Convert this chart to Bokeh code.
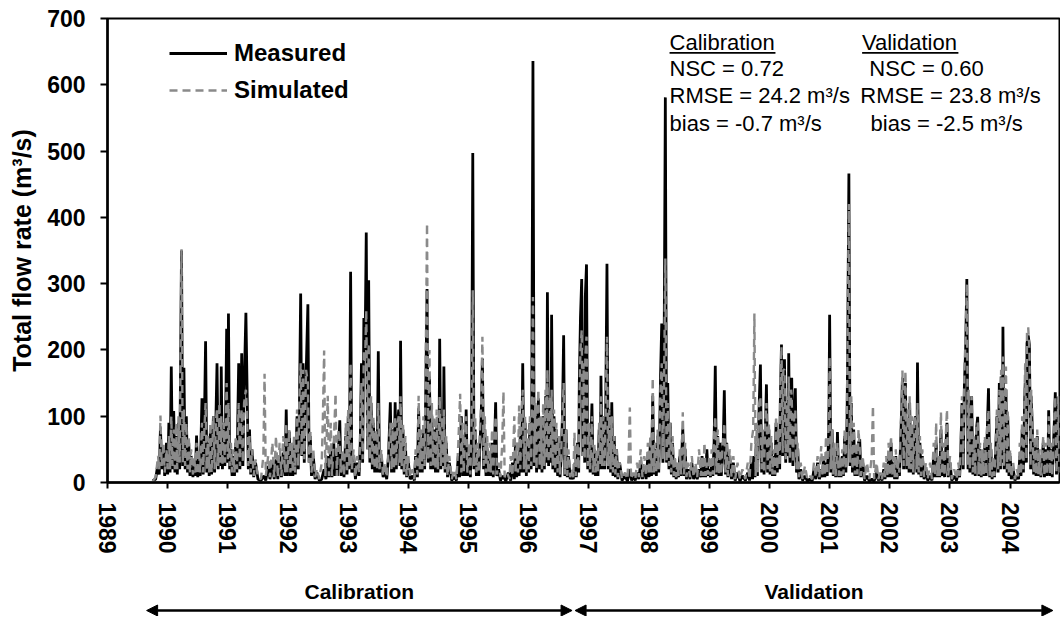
from bokeh.plotting import figure
from bokeh.layouts import column
from bokeh.models import Legend, LegendItem, Label, BoxAnnotation, Arrow, NormalHead, FixedTicker, Range1d
from bokeh.embed import file_html
from bokeh.resources import INLINE

# ---------------- data (decimal year, total flow m3/s) ----------------
measured_cal = [
    (1989.75, 3), (1989.80, 5), (1989.84, 30), (1989.86, 12), (1989.88, 83), (1989.90, 20), (1989.93, 50),
    (1989.95, 10), (1989.98, 60), (1990.00, 12), (1990.02, 90), (1990.04, 15), (1990.06, 175), (1990.08, 20),
    (1990.10, 108), (1990.12, 15), (1990.14, 70), (1990.16, 12), (1990.18, 90), (1990.20, 20), (1990.23, 350),
    (1990.25, 25), (1990.27, 173), (1990.29, 20), (1990.31, 100), (1990.33, 15), (1990.35, 60), (1990.37, 10),
    (1990.39, 40), (1990.42, 8), (1990.44, 30), (1990.46, 10), (1990.48, 71), (1990.50, 8), (1990.52, 40),
    (1990.54, 10), (1990.57, 127), (1990.59, 12), (1990.61, 90), (1990.63, 213), (1990.65, 15), (1990.67, 60),
    (1990.69, 10), (1990.71, 80), (1990.73, 12), (1990.76, 100), (1990.78, 15), (1990.80, 90), (1990.82, 180),
    (1990.84, 20), (1990.86, 110), (1990.88, 25), (1990.89, 175), (1990.91, 20), (1990.93, 90), (1990.95, 25),
    (1990.97, 150), (1990.98, 232), (1991.00, 30), (1991.01, 255), (1991.03, 20), (1991.05, 50), (1991.07, 10),
    (1991.09, 40), (1991.11, 10), (1991.13, 60), (1991.15, 15), (1991.18, 180), (1991.20, 20), (1991.22, 120),
    (1991.23, 195), (1991.25, 25), (1991.27, 140), (1991.30, 256), (1991.32, 139), (1991.34, 20), (1991.36, 80),
    (1991.38, 12), (1991.40, 50), (1991.43, 8), (1991.46, 30), (1991.50, 5), (1991.55, 3), (1991.60, 10),
    (1991.63, 3), (1991.67, 25), (1991.70, 5), (1991.74, 30), (1991.77, 5), (1991.80, 35), (1991.83, 5),
    (1991.86, 40), (1991.89, 8), (1991.92, 45), (1991.95, 10), (1991.97, 110), (1991.99, 10), (1992.02, 77),
    (1992.04, 10), (1992.06, 50), (1992.08, 10), (1992.10, 60), (1992.12, 12), (1992.15, 100), (1992.17, 20),
    (1992.19, 120), (1992.21, 285), (1992.23, 40), (1992.25, 180), (1992.27, 30), (1992.30, 160), (1992.33, 269),
    (1992.35, 30), (1992.37, 70), (1992.39, 10), (1992.42, 40), (1992.45, 5), (1992.48, 15), (1992.52, 3),
    (1992.56, 5), (1992.60, 20), (1992.63, 5), (1992.66, 40), (1992.68, 8), (1992.71, 50), (1992.73, 8),
    (1992.76, 60), (1992.78, 10), (1992.80, 40), (1992.82, 10), (1992.84, 55), (1992.86, 94), (1992.88, 10),
    (1992.91, 40), (1992.93, 8), (1992.96, 70), (1992.98, 12), (1993.00, 100), (1993.02, 20), (1993.04, 318),
    (1993.06, 15), (1993.09, 40), (1993.12, 5), (1993.15, 30), (1993.18, 10), (1993.20, 60), (1993.22, 180),
    (1993.24, 30), (1993.26, 248), (1993.28, 200), (1993.30, 377), (1993.32, 50), (1993.34, 305), (1993.36, 30),
    (1993.38, 120), (1993.40, 20), (1993.42, 90), (1993.44, 15), (1993.46, 70), (1993.48, 15), (1993.50, 198),
    (1993.52, 15), (1993.55, 40), (1993.58, 8), (1993.61, 20), (1993.64, 5), (1993.67, 40), (1993.70, 121),
    (1993.72, 15), (1993.74, 80), (1993.76, 15), (1993.78, 121), (1993.80, 20), (1993.82, 90), (1993.84, 110),
    (1993.86, 25), (1993.87, 214), (1993.89, 20), (1993.91, 80), (1993.93, 12), (1993.95, 60), (1993.97, 8),
    (1994.00, 30), (1994.03, 5), (1994.07, 10), (1994.10, 3), (1994.12, 40), (1994.15, 8), (1994.17, 112),
    (1994.19, 15), (1994.21, 60), (1994.23, 15), (1994.25, 80), (1994.27, 20), (1994.29, 150), (1994.31, 292),
    (1994.33, 30), (1994.35, 160), (1994.37, 20), (1994.39, 100), (1994.41, 20), (1994.43, 80), (1994.45, 15),
    (1994.47, 90), (1994.49, 15), (1994.51, 70), (1994.52, 217), (1994.54, 20), (1994.56, 100), (1994.58, 25),
    (1994.59, 175), (1994.61, 15), (1994.63, 60), (1994.65, 8), (1994.68, 30), (1994.72, 3), (1994.76, 8),
    (1994.80, 3), (1994.83, 40), (1994.85, 8), (1994.88, 100), (1994.90, 10), (1994.92, 60), (1994.94, 10),
    (1994.96, 110), (1994.98, 10), (1995.01, 40), (1995.03, 8), (1995.05, 80), (1995.07, 497), (1995.09, 20),
    (1995.11, 80), (1995.13, 10), (1995.15, 40), (1995.17, 10), (1995.19, 60), (1995.21, 100), (1995.23, 187),
    (1995.25, 20), (1995.27, 80), (1995.29, 10), (1995.31, 50), (1995.33, 10), (1995.35, 40), (1995.37, 10),
    (1995.39, 60), (1995.41, 8), (1995.43, 50), (1995.45, 121), (1995.47, 10), (1995.50, 20), (1995.53, 3),
    (1995.57, 10), (1995.62, 2), (1995.66, 15), (1995.70, 3), (1995.73, 30), (1995.76, 5), (1995.78, 60),
    (1995.80, 8), (1995.82, 40), (1995.84, 10), (1995.86, 70), (1995.88, 15), (1995.90, 180), (1995.92, 15),
    (1995.94, 90), (1995.96, 10), (1995.98, 60), (1996.00, 15), (1996.02, 90), (1996.04, 20), (1996.05, 120),
    (1996.07, 636), (1996.09, 25), (1996.11, 110), (1996.13, 15), (1996.14, 70), (1996.16, 127), (1996.18, 20),
    (1996.20, 80), (1996.22, 15), (1996.24, 100), (1996.26, 20), (1996.28, 130), (1996.30, 30), (1996.31, 287),
    (1996.33, 25), (1996.35, 120), (1996.37, 30), (1996.38, 253), (1996.40, 20), (1996.42, 100), (1996.44, 15),
    (1996.46, 80), (1996.48, 10), (1996.50, 60), (1996.52, 8), (1996.54, 40), (1996.56, 100), (1996.58, 222),
    (1996.60, 10), (1996.62, 80), (1996.64, 8), (1996.66, 40), (1996.69, 5), (1996.72, 10),
]
measured_val = [
    (1996.74, 5), (1996.77, 30), (1996.79, 8), (1996.81, 60), (1996.83, 15), (1996.84, 150), (1996.86, 250),
    (1996.88, 307), (1996.90, 40), (1996.91, 200), (1996.93, 30), (1996.94, 280), (1996.96, 329), (1996.98, 20),
    (1997.00, 80), (1997.02, 15), (1997.05, 119), (1997.07, 12), (1997.09, 50), (1997.11, 10), (1997.13, 40),
    (1997.15, 10), (1997.17, 80), (1997.19, 20), (1997.20, 161), (1997.22, 20), (1997.24, 100), (1997.26, 20),
    (1997.28, 120), (1997.30, 330), (1997.32, 20), (1997.34, 110), (1997.36, 15), (1997.38, 121), (1997.40, 10),
    (1997.42, 70), (1997.44, 8), (1997.46, 50), (1997.48, 5), (1997.51, 30), (1997.55, 3), (1997.60, 10),
    (1997.64, 2), (1997.68, 20), (1997.71, 3), (1997.74, 10), (1997.77, 3), (1997.80, 15), (1997.83, 5),
    (1997.86, 30), (1997.89, 5), (1997.92, 25), (1997.95, 5), (1997.98, 40), (1998.00, 8), (1998.02, 60),
    (1998.04, 10), (1998.06, 131), (1998.08, 12), (1998.10, 50), (1998.12, 10), (1998.14, 70), (1998.16, 15),
    (1998.18, 100), (1998.19, 160), (1998.21, 240), (1998.23, 30), (1998.25, 200), (1998.27, 581), (1998.29, 30),
    (1998.31, 150), (1998.33, 20), (1998.35, 90), (1998.37, 12), (1998.39, 60), (1998.41, 8), (1998.43, 30),
    (1998.45, 5), (1998.47, 20), (1998.49, 8), (1998.51, 40), (1998.53, 10), (1998.55, 60), (1998.56, 81),
    (1998.58, 10), (1998.60, 50), (1998.62, 5), (1998.65, 20), (1998.68, 5), (1998.71, 30), (1998.74, 5),
    (1998.77, 15), (1998.80, 5), (1998.83, 20), (1998.86, 8), (1998.88, 40), (1998.90, 8), (1998.92, 30),
    (1998.94, 8), (1998.96, 50), (1998.98, 10), (1999.00, 20), (1999.02, 8), (1999.04, 30), (1999.06, 10),
    (1999.08, 60), (1999.10, 176), (1999.12, 12), (1999.14, 70), (1999.16, 10), (1999.18, 60), (1999.20, 10),
    (1999.22, 40), (1999.23, 50), (1999.25, 139), (1999.27, 12), (1999.29, 60), (1999.31, 8), (1999.34, 40),
    (1999.37, 5), (1999.40, 30), (1999.43, 3), (1999.47, 15), (1999.51, 2), (1999.55, 10), (1999.60, 3),
    (1999.64, 15), (1999.67, 3), (1999.70, 30), (1999.72, 5), (1999.74, 40), (1999.76, 8), (1999.78, 60),
    (1999.80, 10), (1999.82, 80), (1999.83, 120), (1999.85, 178), (1999.87, 15), (1999.89, 60), (1999.91, 12),
    (1999.93, 70), (1999.95, 148), (1999.97, 15), (1999.99, 80), (2000.01, 12), (2000.03, 60), (2000.05, 10),
    (2000.07, 40), (2000.09, 10), (2000.11, 90), (2000.13, 15), (2000.15, 60), (2000.17, 20), (2000.18, 120),
    (2000.20, 208), (2000.22, 40), (2000.23, 150), (2000.25, 186), (2000.27, 30), (2000.29, 120), (2000.31, 40),
    (2000.32, 195), (2000.34, 30), (2000.36, 140), (2000.37, 158), (2000.39, 25), (2000.41, 100), (2000.43, 142),
    (2000.45, 15), (2000.47, 50), (2000.49, 5), (2000.52, 20), (2000.55, 3), (2000.59, 10), (2000.63, 2),
    (2000.67, 5), (2000.71, 2), (2000.74, 20), (2000.77, 5), (2000.80, 30), (2000.83, 5), (2000.86, 20),
    (2000.88, 8), (2000.90, 40), (2000.92, 8), (2000.94, 30), (2000.96, 10), (2000.98, 60), (2000.99, 120),
    (2001.00, 253), (2001.02, 15), (2001.04, 80), (2001.06, 10), (2001.08, 50), (2001.10, 8), (2001.12, 30),
    (2001.13, 76), (2001.15, 8), (2001.17, 30), (2001.19, 8), (2001.21, 40), (2001.23, 10), (2001.25, 70),
    (2001.27, 15), (2001.29, 100), (2001.30, 200), (2001.32, 466), (2001.34, 25), (2001.36, 120), (2001.38, 15),
    (2001.40, 80), (2001.42, 10), (2001.44, 50), (2001.46, 10), (2001.48, 60), (2001.50, 65), (2001.52, 8),
    (2001.55, 30), (2001.58, 3), (2001.62, 10), (2001.66, 2), (2001.70, 5), (2001.74, 2), (2001.78, 15),
    (2001.81, 3), (2001.84, 10), (2001.87, 3), (2001.90, 20), (2001.92, 5), (2001.94, 25), (2001.96, 8),
    (2001.98, 40), (2002.00, 8), (2002.02, 60), (2002.04, 8), (2002.06, 30), (2002.08, 5), (2002.10, 40),
    (2002.12, 5), (2002.14, 20), (2002.16, 10), (2002.18, 60), (2002.20, 120), (2002.21, 158), (2002.23, 20),
    (2002.25, 100), (2002.26, 150), (2002.28, 20), (2002.30, 90), (2002.32, 15), (2002.33, 120), (2002.35, 15),
    (2002.37, 80), (2002.39, 12), (2002.41, 90), (2002.43, 100), (2002.45, 15), (2002.46, 181), (2002.48, 12),
    (2002.50, 60), (2002.52, 8), (2002.54, 40), (2002.57, 5), (2002.60, 20), (2002.63, 3), (2002.67, 10),
    (2002.70, 3), (2002.73, 40), (2002.75, 8), (2002.77, 60), (2002.79, 8), (2002.81, 30), (2002.83, 8),
    (2002.85, 80), (2002.87, 10), (2002.89, 40), (2002.91, 8), (2002.93, 50), (2002.95, 90), (2002.97, 8),
    (2003.00, 30), (2003.03, 3), (2003.07, 10), (2003.11, 3), (2003.14, 20), (2003.16, 8), (2003.18, 50),
    (2003.20, 120), (2003.22, 20), (2003.24, 150), (2003.26, 200), (2003.28, 307), (2003.30, 20), (2003.31, 130),
    (2003.33, 15), (2003.35, 100), (2003.36, 130), (2003.38, 12), (2003.40, 60), (2003.42, 10), (2003.44, 80),
    (2003.46, 99), (2003.48, 10), (2003.50, 50), (2003.52, 8), (2003.54, 40), (2003.56, 10), (2003.58, 60),
    (2003.60, 10), (2003.62, 80), (2003.64, 142), (2003.66, 8), (2003.68, 50), (2003.70, 5), (2003.72, 30),
    (2003.74, 8), (2003.76, 50), (2003.78, 100), (2003.80, 15), (2003.82, 150), (2003.84, 20), (2003.85, 160),
    (2003.87, 30), (2003.88, 235), (2003.90, 20), (2003.92, 120), (2003.93, 140), (2003.95, 15), (2003.96, 100),
    (2003.98, 10), (2004.00, 40), (2004.02, 5), (2004.05, 20), (2004.08, 3), (2004.11, 10), (2004.14, 5),
    (2004.16, 40), (2004.18, 10), (2004.20, 80), (2004.22, 15), (2004.24, 120), (2004.25, 150), (2004.27, 30),
    (2004.28, 210), (2004.30, 222), (2004.32, 207), (2004.34, 20), (2004.35, 130), (2004.37, 77), (2004.39, 12),
    (2004.41, 60), (2004.43, 10), (2004.45, 70), (2004.47, 10), (2004.49, 40), (2004.51, 8), (2004.53, 30),
    (2004.55, 60), (2004.57, 8), (2004.59, 50), (2004.61, 10), (2004.63, 40), (2004.64, 109), (2004.66, 10),
    (2004.68, 50), (2004.70, 8), (2004.72, 60), (2004.73, 80), (2004.75, 136), (2004.77, 12), (2004.79, 60),
    (2004.80, 129), (2004.82, 15),
]
simulated_cal = [
    (1989.75, 2), (1989.80, 8), (1989.84, 40), (1989.86, 20), (1989.88, 101), (1989.90, 25), (1989.93, 60),
    (1989.95, 15), (1989.98, 50), (1990.00, 20), (1990.02, 70), (1990.04, 20), (1990.06, 100), (1990.08, 25),
    (1990.10, 80), (1990.12, 20), (1990.14, 90), (1990.16, 20), (1990.18, 100), (1990.20, 30), (1990.23, 352),
    (1990.25, 30), (1990.27, 110), (1990.29, 25), (1990.31, 90), (1990.33, 20), (1990.35, 70), (1990.37, 15),
    (1990.39, 50), (1990.42, 12), (1990.44, 40), (1990.46, 15), (1990.48, 60), (1990.50, 12), (1990.52, 50),
    (1990.54, 15), (1990.57, 90), (1990.59, 15), (1990.61, 80), (1990.63, 120), (1990.65, 20), (1990.67, 70),
    (1990.69, 15), (1990.71, 90), (1990.73, 15), (1990.76, 100), (1990.78, 20), (1990.80, 90), (1990.82, 110),
    (1990.84, 25), (1990.86, 120), (1990.88, 30), (1990.89, 100), (1990.91, 25), (1990.93, 90), (1990.95, 30),
    (1990.97, 110), (1990.98, 150), (1991.00, 35), (1991.01, 120), (1991.03, 25), (1991.05, 60), (1991.07, 15),
    (1991.09, 50), (1991.11, 15), (1991.13, 70), (1991.15, 20), (1991.18, 120), (1991.20, 25), (1991.22, 100),
    (1991.23, 110), (1991.25, 30), (1991.27, 120), (1991.30, 140), (1991.32, 100), (1991.34, 25), (1991.36, 70),
    (1991.38, 15), (1991.40, 50), (1991.43, 10), (1991.46, 35), (1991.50, 8), (1991.55, 5), (1991.59, 40),
    (1991.61, 164), (1991.63, 10), (1991.67, 40), (1991.70, 8), (1991.74, 60), (1991.77, 8), (1991.80, 70),
    (1991.83, 8), (1991.86, 60), (1991.89, 10), (1991.92, 70), (1991.95, 15), (1991.97, 90), (1991.99, 15),
    (1992.02, 80), (1992.04, 15), (1992.06, 60), (1992.08, 15), (1992.10, 70), (1992.12, 15), (1992.15, 110),
    (1992.17, 25), (1992.19, 130), (1992.21, 180), (1992.23, 40), (1992.25, 170), (1992.27, 35), (1992.30, 170),
    (1992.33, 150), (1992.35, 30), (1992.37, 80), (1992.39, 15), (1992.42, 50), (1992.45, 8), (1992.48, 20),
    (1992.52, 5), (1992.56, 30), (1992.58, 100), (1992.60, 199), (1992.62, 10), (1992.64, 60), (1992.66, 131),
    (1992.68, 10), (1992.71, 90), (1992.73, 10), (1992.76, 60), (1992.79, 134), (1992.81, 10), (1992.84, 80),
    (1992.86, 60), (1992.88, 15), (1992.91, 50), (1992.93, 10), (1992.96, 90), (1992.98, 15), (1993.00, 110),
    (1993.02, 25), (1993.04, 180), (1993.06, 20), (1993.09, 50), (1993.12, 8), (1993.15, 40), (1993.18, 15),
    (1993.20, 70), (1993.22, 150), (1993.24, 35), (1993.26, 200), (1993.28, 180), (1993.30, 260), (1993.32, 50),
    (1993.34, 210), (1993.36, 35), (1993.38, 130), (1993.40, 25), (1993.42, 100), (1993.44, 20), (1993.46, 80),
    (1993.48, 20), (1993.50, 120), (1993.52, 20), (1993.55, 50), (1993.58, 10), (1993.61, 30), (1993.64, 8),
    (1993.67, 50), (1993.70, 90), (1993.72, 20), (1993.74, 90), (1993.76, 20), (1993.78, 100), (1993.80, 25),
    (1993.82, 90), (1993.84, 100), (1993.86, 30), (1993.87, 130), (1993.89, 25), (1993.91, 90), (1993.93, 15),
    (1993.95, 70), (1993.97, 10), (1994.00, 40), (1994.03, 8), (1994.07, 20), (1994.10, 5), (1994.12, 50),
    (1994.15, 12), (1994.17, 131), (1994.19, 20), (1994.21, 80), (1994.23, 20), (1994.25, 100), (1994.27, 25),
    (1994.29, 200), (1994.31, 391), (1994.33, 35), (1994.35, 200), (1994.37, 25), (1994.39, 120), (1994.41, 25),
    (1994.43, 100), (1994.45, 20), (1994.47, 110), (1994.49, 20), (1994.51, 90), (1994.52, 130), (1994.54, 25),
    (1994.56, 100), (1994.58, 30), (1994.59, 110), (1994.61, 20), (1994.63, 70), (1994.65, 10), (1994.68, 40),
    (1994.72, 5), (1994.76, 20), (1994.80, 5), (1994.83, 60), (1994.86, 134), (1994.88, 15), (1994.90, 90),
    (1994.92, 15), (1994.94, 70), (1994.96, 100), (1994.98, 15), (1995.01, 60), (1995.03, 12), (1995.05, 90),
    (1995.07, 290), (1995.09, 25), (1995.11, 100), (1995.13, 15), (1995.15, 60), (1995.17, 15), (1995.19, 80),
    (1995.21, 120), (1995.23, 220), (1995.25, 25), (1995.27, 100), (1995.29, 15), (1995.31, 70), (1995.33, 15),
    (1995.35, 60), (1995.37, 15), (1995.39, 80), (1995.41, 12), (1995.43, 60), (1995.45, 100), (1995.47, 12),
    (1995.50, 30), (1995.53, 8), (1995.56, 60), (1995.58, 137), (1995.60, 8), (1995.64, 15), (1995.68, 5),
    (1995.70, 40), (1995.73, 10), (1995.76, 100), (1995.78, 15), (1995.80, 60), (1995.82, 15), (1995.84, 116),
    (1995.86, 20), (1995.88, 100), (1995.90, 140), (1995.92, 20), (1995.94, 100), (1995.96, 15), (1995.98, 80),
    (1996.00, 20), (1996.02, 100), (1996.04, 25), (1996.05, 130), (1996.07, 280), (1996.09, 30), (1996.11, 120),
    (1996.13, 20), (1996.14, 90), (1996.16, 140), (1996.18, 25), (1996.20, 100), (1996.22, 20), (1996.24, 120),
    (1996.26, 25), (1996.28, 140), (1996.30, 35), (1996.31, 170), (1996.33, 30), (1996.35, 130), (1996.37, 35),
    (1996.38, 140), (1996.40, 25), (1996.42, 110), (1996.44, 20), (1996.46, 90), (1996.48, 15), (1996.50, 70),
    (1996.52, 12), (1996.54, 50), (1996.56, 100), (1996.58, 150), (1996.60, 12), (1996.62, 80), (1996.64, 10),
    (1996.66, 50), (1996.69, 8), (1996.72, 20),
]
simulated_val = [
    (1996.74, 8), (1996.76, 75), (1996.78, 10), (1996.81, 60), (1996.83, 20), (1996.84, 120), (1996.86, 200),
    (1996.88, 230), (1996.90, 40), (1996.91, 180), (1996.93, 35), (1996.94, 190), (1996.96, 220), (1996.98, 25),
    (1997.00, 90), (1997.02, 20), (1997.05, 100), (1997.07, 15), (1997.09, 60), (1997.11, 15), (1997.13, 50),
    (1997.15, 15), (1997.17, 90), (1997.19, 25), (1997.20, 130), (1997.22, 25), (1997.24, 100), (1997.26, 25),
    (1997.28, 120), (1997.30, 220), (1997.32, 25), (1997.34, 110), (1997.36, 20), (1997.38, 100), (1997.40, 15),
    (1997.42, 70), (1997.44, 12), (1997.46, 50), (1997.48, 8), (1997.51, 30), (1997.55, 5), (1997.60, 15),
    (1997.64, 5), (1997.66, 40), (1997.68, 113), (1997.70, 5), (1997.74, 15), (1997.77, 5), (1997.80, 30),
    (1997.83, 8), (1997.86, 50), (1997.89, 8), (1997.92, 40), (1997.95, 10), (1997.98, 60), (1998.00, 12),
    (1998.02, 70), (1998.04, 15), (1998.06, 158), (1998.08, 15), (1998.10, 60), (1998.12, 15), (1998.14, 80),
    (1998.16, 20), (1998.18, 100), (1998.19, 140), (1998.21, 180), (1998.23, 35), (1998.25, 160), (1998.27, 338),
    (1998.29, 30), (1998.31, 120), (1998.33, 25), (1998.35, 90), (1998.37, 15), (1998.39, 70), (1998.41, 10),
    (1998.43, 40), (1998.45, 8), (1998.47, 30), (1998.49, 10), (1998.51, 50), (1998.53, 12), (1998.55, 70),
    (1998.56, 106), (1998.58, 12), (1998.60, 60), (1998.62, 8), (1998.65, 30), (1998.68, 8), (1998.71, 40),
    (1998.74, 8), (1998.77, 30), (1998.80, 8), (1998.83, 50), (1998.86, 10), (1998.88, 40), (1998.90, 10),
    (1998.92, 60), (1998.94, 10), (1998.96, 30), (1998.98, 12), (1999.00, 40), (1999.02, 10), (1999.04, 50),
    (1999.06, 12), (1999.08, 70), (1999.10, 100), (1999.12, 15), (1999.14, 80), (1999.16, 12), (1999.18, 50),
    (1999.20, 12), (1999.22, 60), (1999.23, 60), (1999.25, 90), (1999.27, 15), (1999.29, 60), (1999.31, 10),
    (1999.34, 50), (1999.37, 8), (1999.40, 40), (1999.43, 5), (1999.47, 30), (1999.51, 5), (1999.55, 20),
    (1999.60, 5), (1999.64, 30), (1999.67, 5), (1999.70, 60), (1999.73, 80), (1999.75, 255), (1999.77, 10),
    (1999.79, 90), (1999.81, 15), (1999.82, 100), (1999.83, 120), (1999.85, 130), (1999.87, 20), (1999.89, 80),
    (1999.91, 15), (1999.93, 90), (1999.95, 120), (1999.97, 20), (1999.99, 90), (2000.01, 15), (2000.03, 70),
    (2000.05, 12), (2000.07, 50), (2000.09, 12), (2000.11, 100), (2000.13, 20), (2000.15, 80), (2000.17, 25),
    (2000.18, 140), (2000.20, 205), (2000.22, 45), (2000.23, 170), (2000.25, 170), (2000.27, 35), (2000.29, 130),
    (2000.31, 45), (2000.32, 160), (2000.34, 35), (2000.36, 140), (2000.37, 130), (2000.39, 30), (2000.41, 100),
    (2000.43, 110), (2000.45, 20), (2000.47, 60), (2000.49, 8), (2000.52, 30), (2000.55, 5), (2000.59, 25),
    (2000.63, 5), (2000.67, 10), (2000.71, 5), (2000.74, 30), (2000.77, 8), (2000.80, 40), (2000.83, 8),
    (2000.86, 55), (2000.88, 10), (2000.90, 40), (2000.92, 10), (2000.94, 70), (2000.96, 12), (2000.98, 80),
    (2000.99, 100), (2001.00, 190), (2001.02, 20), (2001.04, 80), (2001.06, 12), (2001.08, 60), (2001.10, 10),
    (2001.12, 40), (2001.13, 60), (2001.15, 10), (2001.17, 40), (2001.19, 10), (2001.21, 50), (2001.23, 12),
    (2001.25, 80), (2001.27, 20), (2001.29, 120), (2001.30, 250), (2001.32, 420), (2001.34, 30), (2001.36, 130),
    (2001.38, 20), (2001.40, 90), (2001.42, 12), (2001.44, 60), (2001.46, 12), (2001.48, 80), (2001.50, 50),
    (2001.52, 10), (2001.55, 40), (2001.58, 5), (2001.62, 30), (2001.66, 5), (2001.70, 40), (2001.72, 116),
    (2001.74, 5), (2001.78, 30), (2001.81, 5), (2001.84, 15), (2001.87, 5), (2001.90, 30), (2001.92, 8),
    (2001.94, 40), (2001.96, 10), (2001.98, 60), (2002.00, 10), (2002.02, 70), (2002.04, 10), (2002.06, 40),
    (2002.08, 8), (2002.10, 50), (2002.12, 8), (2002.14, 30), (2002.16, 15), (2002.18, 80), (2002.20, 130),
    (2002.21, 169), (2002.23, 25), (2002.25, 130), (2002.26, 168), (2002.28, 25), (2002.30, 110), (2002.32, 20),
    (2002.33, 130), (2002.35, 20), (2002.37, 100), (2002.39, 15), (2002.41, 100), (2002.43, 90), (2002.45, 20),
    (2002.46, 120), (2002.48, 15), (2002.50, 70), (2002.52, 10), (2002.54, 50), (2002.57, 8), (2002.60, 30),
    (2002.63, 5), (2002.67, 30), (2002.70, 5), (2002.73, 60), (2002.75, 10), (2002.77, 90), (2002.79, 10),
    (2002.81, 40), (2002.83, 10), (2002.85, 106), (2002.87, 12), (2002.89, 60), (2002.91, 10), (2002.93, 70),
    (2002.95, 110), (2002.97, 10), (2003.00, 40), (2003.03, 5), (2003.07, 20), (2003.11, 5), (2003.14, 30),
    (2003.16, 10), (2003.18, 60), (2003.20, 130), (2003.22, 25), (2003.24, 170), (2003.26, 220), (2003.28, 300),
    (2003.30, 25), (2003.31, 140), (2003.33, 20), (2003.35, 110), (2003.36, 130), (2003.38, 15), (2003.40, 70),
    (2003.42, 12), (2003.44, 90), (2003.46, 90), (2003.48, 12), (2003.50, 60), (2003.52, 10), (2003.54, 50),
    (2003.56, 12), (2003.58, 70), (2003.60, 12), (2003.62, 90), (2003.64, 110), (2003.66, 10), (2003.68, 60),
    (2003.70, 8), (2003.72, 40), (2003.74, 10), (2003.76, 60), (2003.78, 110), (2003.80, 20), (2003.82, 140),
    (2003.84, 25), (2003.85, 170), (2003.87, 35), (2003.88, 190), (2003.90, 25), (2003.92, 150), (2003.93, 175),
    (2003.95, 20), (2003.96, 110), (2003.98, 12), (2004.00, 50), (2004.02, 8), (2004.05, 30), (2004.08, 5),
    (2004.11, 20), (2004.14, 8), (2004.16, 60), (2004.18, 12), (2004.20, 100), (2004.22, 20), (2004.24, 140),
    (2004.25, 180), (2004.27, 35), (2004.28, 225), (2004.30, 234), (2004.32, 200), (2004.34, 25), (2004.35, 140),
    (2004.37, 90), (2004.39, 15), (2004.41, 70), (2004.43, 12), (2004.45, 80), (2004.47, 12), (2004.49, 50),
    (2004.51, 10), (2004.53, 40), (2004.55, 70), (2004.57, 10), (2004.59, 60), (2004.61, 12), (2004.63, 50),
    (2004.64, 100), (2004.66, 12), (2004.68, 60), (2004.70, 10), (2004.72, 70), (2004.73, 90), (2004.75, 130),
    (2004.77, 15), (2004.79, 70), (2004.80, 130), (2004.82, 15),
]
year_ticks = list(range(1989, 2005))
year_labels = [str(y) for y in year_ticks]
flow_ticks = [0, 100, 200, 300, 400, 500, 600, 700]

stats_calibration = ["NSC = 0.72", "RMSE = 24.2 m\u00b3/s", "bias = -0.7 m\u00b3/s"]
stats_validation = ["NSC = 0.60", "RMSE = 23.8 m\u00b3/s", "bias = -2.5 m\u00b3/s"]
period_names = ["Calibration", "Validation"]
period_bounds = [(1989.65, 1996.72), (1996.77, 2004.71)]

FONT = "Liberation Sans"

m_all = measured_cal + measured_val
s_all = simulated_cal + simulated_val
mt = [a for a, b in m_all]
mq = [b for a, b in m_all]
st = [a for a, b in s_all]
sq = [b for a, b in s_all]

W = 1060
p = figure(width=W, height=560, output_backend="svg", toolbar_location=None,
           x_range=Range1d(1989.0, 2004.82), y_range=Range1d(0, 700),
           min_border_left=107, min_border_right=1, min_border_top=18, min_border_bottom=78)
p.xgrid.visible = False
p.ygrid.visible = False
p.outline_line_color = "black"
p.outline_line_width = 2
p.outline_line_alpha = 1

rm = p.line(mt, mq, line_color="black", line_width=2.8)
rs = p.line(st, sq, line_color="#8a8a8a", line_width=2.4, line_dash="8 5")

xa = p.xaxis[0]
ya = p.yaxis[0]
xa.ticker = FixedTicker(ticks=year_ticks)
xa.major_label_overrides = {t: l for t, l in zip(year_ticks, year_labels)}
ya.ticker = FixedTicker(ticks=flow_ticks)
for ax in (xa, ya):
    ax.axis_line_width = 2.5
    ax.axis_line_color = "black"
    ax.major_tick_line_width = 2
    ax.major_tick_line_color = "black"
    ax.major_tick_in = 0
    ax.minor_tick_line_color = None
    ax.major_label_text_font = FONT
    ax.major_label_text_font_style = "bold"
    ax.major_label_text_font_size = "23px"
    ax.major_label_text_color = "black"
xa.major_tick_out = 6
xa.major_label_orientation = "vertical"
xa.major_label_standoff = 14
ya.major_tick_out = 7
ya.major_label_standoff = 15
ya.axis_label = "Total flow rate (m\u00b3/s)"
ya.axis_label_text_font = FONT
ya.axis_label_text_font_style = "bold"
ya.axis_label_text_font_size = "25px"
ya.axis_label_text_color = "black"
ya.axis_label_standoff = 8

legend = Legend(items=[LegendItem(label="Measured", renderers=[rm]),
                       LegendItem(label="Simulated", renderers=[rs])],
                location=(62, 378))
legend.background_fill_alpha = 0
legend.border_line_color = None
legend.label_text_font = FONT
legend.label_text_font_style = "bold"
legend.label_text_font_size = "24px"
legend.label_text_color = "black"
legend.glyph_width = 58
legend.glyph_height = 24
legend.label_height = 24
legend.spacing = 9
legend.label_standoff = 7
legend.padding = 0
legend.margin = 0
p.add_layout(legend)

# statistics text block
TS = "22px"
head_y = 663.8
stat_rows_y = [624.1, 583.1, 541.1]
p.add_layout(Label(x=1998.34, y=head_y, text="Calibration", text_font=FONT, text_font_size=TS,
                   text_color="black", text_baseline="middle"))
p.add_layout(Label(x=2001.536, y=head_y, text="Validation", text_font=FONT, text_font_size=TS,
                   text_color="black", text_baseline="middle"))
p.add_layout(BoxAnnotation(left=1998.34, right=2000.10, bottom=647.0, top=649.3,
                           fill_color="black", fill_alpha=1, line_color=None))
p.add_layout(BoxAnnotation(left=2001.54, right=2003.14, bottom=647.0, top=649.3,
                           fill_color="black", fill_alpha=1, line_color=None))
for txt, yy in zip(stats_calibration, stat_rows_y):
    p.add_layout(Label(x=1998.34, y=yy, text=txt, text_font=FONT, text_font_size=TS,
                       text_color="black", text_baseline="middle"))
val_x = [2001.66, 2001.51, 2001.68]
for txt, yy, xx in zip(stats_validation, stat_rows_y, val_x):
    p.add_layout(Label(x=xx, y=yy, text=txt, text_font=FONT, text_font_size=TS,
                       text_color="black", text_baseline="middle"))

# period arrows in a strip below the chart, sharing the x scale
p2 = figure(width=W, height=56, output_backend="svg", toolbar_location=None,
            x_range=p.x_range, y_range=Range1d(0, 56),
            min_border_left=107, min_border_right=1, min_border_top=0, min_border_bottom=0)
p2.axis.visible = False
p2.xgrid.visible = False
p2.ygrid.visible = False
p2.outline_line_color = None
for name, (x0, x1) in zip(period_names, period_bounds):
    p2.add_layout(Arrow(x_start=x0, y_start=6, x_end=x1, y_end=6, line_width=2.5, line_color="black",
                        start=NormalHead(size=11, fill_color="black", line_color="black"),
                        end=NormalHead(size=11, fill_color="black", line_color="black")))
    p2.add_layout(Label(x=(x0 + x1) / 2, y=25, text=name, text_font=FONT, text_font_size="21px",
                        text_font_style="bold", text_color="black", text_align="center",
                        text_baseline="middle"))

layout = column(p, p2, spacing=0)
open("out.html", "w").write(file_html(layout, INLINE))
